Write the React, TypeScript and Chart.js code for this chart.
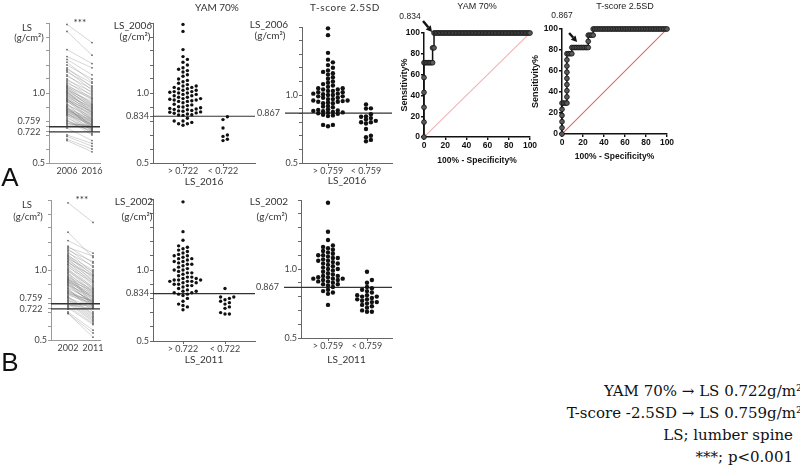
import React, { useEffect, useRef } from "react";
import { Chart, registerables } from "chart.js";

Chart.register(...registerables);

// ================= DATA =================
// Panel A: lumbar spine BMD (g/cm2), same subjects in 2006 and 2016
const A_LS2006 = [
  0.83, 0.81, 0.75, 0.70, 0.69, 0.67, 0.66,
  0.93, 0.902, 0.90, 0.858, 0.843, 0.84, 0.82, 0.80, 0.80, 0.79,
  0.77, 0.78, 0.78, 0.845, 0.85, 0.855,
  0.862, 0.865, 0.87, 0.872, 0.875, 0.88, 0.883, 0.886, 0.89, 0.895,
  0.91, 0.915, 0.92,
  0.94, 0.94, 0.945, 0.95, 0.95, 0.955, 0.96, 0.96, 0.97, 0.97,
  0.98, 0.98, 0.99, 0.99, 1.00, 1.00, 1.005, 1.01, 1.01, 1.02,
  1.02, 1.03, 1.03, 1.04, 1.04, 1.05, 1.05, 1.06, 1.07, 1.08,
  1.09, 1.10, 1.12, 1.13, 1.15, 1.16, 1.17, 1.18, 1.20, 1.22,
  1.24, 1.26, 1.31, 1.44, 1.49,
];
const A_LS2016 = [
  0.71, 0.70, 0.66, 0.64, 0.62, 0.60, 0.58,
  0.75, 0.745, 0.74, 0.735, 0.75, 0.73, 0.74, 0.725, 0.745, 0.73,
  0.762, 0.765, 0.77, 0.77, 0.78, 0.765,
  0.79, 0.77, 0.80, 0.775, 0.81, 0.78, 0.79, 0.82, 0.77, 0.80,
  0.79, 0.83, 0.81,
  0.82, 0.85, 0.80, 0.84, 0.87, 0.83, 0.86, 0.81, 0.88, 0.84,
  0.86, 0.90, 0.85, 0.89, 0.87, 0.91, 0.88, 0.92, 0.86, 0.90,
  0.94, 0.89, 0.93, 0.91, 0.96, 0.92, 0.97, 0.95, 0.99, 0.96,
  1.01, 0.98, 1.03, 1.00, 1.05, 1.02, 1.07, 1.04, 1.10, 1.08,
  1.13, 1.18, 1.21, 1.27, 1.36,
];
// Panel B: same measure, 2002 and 2011
const B_LS2002 = [
  1.48, 1.27, 1.21, 1.17, 1.16, 1.15, 1.14, 1.13, 1.12, 1.11,
  1.10, 1.10, 1.09, 1.08, 1.08, 1.07, 1.06, 1.06, 1.05, 1.04,
  1.04, 1.03, 1.02, 1.01, 1.00, 1.00, 0.99, 0.98, 0.98, 0.97,
  0.96, 0.95, 0.95, 0.94, 0.94, 0.93, 0.93, 0.93, 0.92, 0.92,
  0.92, 0.91, 0.91, 0.90, 0.90, 0.89, 0.89, 0.88, 0.87, 0.87,
  0.86, 0.85, 0.85, 0.84, 0.84, 0.83, 0.83, 0.82, 0.81, 0.81,
  0.80, 0.80, 0.79, 0.78, 0.78, 0.77, 0.76, 0.76, 0.75, 0.74,
  0.74, 0.73, 0.72, 0.70, 0.69, 0.69,
];
const B_LS2011 = [
  1.34, 1.09, 1.12, 1.05, 1.10, 1.02, 1.06, 0.98, 1.03, 0.96,
  1.00, 0.94, 0.97, 0.92, 0.99, 0.95, 0.90, 0.93, 0.96, 0.89,
  0.92, 0.87, 0.91, 0.86, 0.88, 0.84, 0.87, 0.83, 0.745, 0.85,
  0.82, 0.86, 0.80, 0.84, 0.79, 0.81, 0.85, 0.78, 0.83, 0.74,
  0.80, 0.77, 0.82, 0.75, 0.79, 0.765, 0.81, 0.77, 0.70, 0.78,
  0.745, 0.77, 0.74, 0.775, 0.75, 0.78, 0.74, 0.765, 0.69, 0.68,
  0.67, 0.735, 0.66, 0.65, 0.73, 0.64, 0.63, 0.74, 0.725, 0.62,
  0.765, 0.61, 0.73, 0.57, 0.55, 0.52,
];

const YEARS_A = ["2006", "2016"];
const YEARS_B = ["2002", "2011"];
const YAM_CUT = 0.722; // YAM 70%
const TSCORE_CUT = 0.759; // T-score -2.5SD
const YAM_ROC_CUT = 0.834;
const TSCORE_ROC_CUT = 0.867;
const YAM_GROUPS = ["> 0.722", "< 0.722"];
const TSCORE_GROUPS = ["> 0.759", "< 0.759"];
const BMD_MIN = 0.5;
const BMD_MAX = 1.5;
const BMD_TICKS = [0.5, 0.6, 0.7, 0.8, 0.9, 1.0, 1.1, 1.2, 1.3, 1.4, 1.5];
const BMD_LABELED = [0.5, 1.0];
const ROC_TICKS = [0, 20, 40, 60, 80, 100];

// ================= helpers =================
const LATO = "Lato, 'Open Sans', sans-serif";
const ARIAL = "'Liberation Sans', Arial, sans-serif";
const EN = "\u2002";

type Geo = {
  box: { left: number; top: number; width: number; height: number };
  area: { l: number; t: number; r: number; b: number };
  xH: number;
  pl?: number;
};

function layoutOf(g: Geo) {
  const pl = g.pl ?? 0;
  return {
    autoPadding: false,
    padding: {
      left: pl,
      top: g.area.t - g.box.top,
      right: g.box.left + g.box.width - g.area.r,
      bottom: g.box.top + g.box.height - g.area.b - g.xH,
    },
  };
}

// deterministic column swarm: points stacked in rows around the category centre
function swarm(values: number[], center: number, pxPerX: number, pxPerY: number, gx: number, gy: number) {
  const order = values.map((_, i) => i).sort((a, b) => values[a] - values[b]);
  const placed: { px: number; py: number }[] = [];
  const out: { x: number; y: number }[] = new Array(values.length);
  for (const i of order) {
    const py = values[i] * pxPerY;
    let off = 0;
    for (let k = 0; k < 300; k++) {
      const cand = k === 0 ? 0 : (k % 2 === 1 ? 1 : -1) * Math.ceil(k / 2) * gx;
      const hit = placed.some((p) => Math.abs(p.px - cand) < gx * 0.99 && Math.abs(p.py - py) < gy);
      if (!hit) {
        off = cand;
        break;
      }
    }
    placed.push({ px: off, py });
    out[i] = { x: center + off / pxPerX, y: values[i] };
  }
  return out;
}

function rocCurve(scores: number[], positive: boolean[]) {
  const nP = positive.filter(Boolean).length;
  const nN = positive.length - nP;
  const order = scores.map((_, i) => i).sort((a, b) => scores[a] - scores[b]);
  let tp = 0;
  let fp = 0;
  const pts = [{ x: 0, y: 0 }];
  for (const i of order) {
    if (positive[i]) tp++;
    else fp++;
    pts.push({ x: (100 * fp) / nN, y: (100 * tp) / nP });
  }
  return pts;
}

function rocAt(scores: number[], positive: boolean[], cut: number) {
  const nP = positive.filter(Boolean).length;
  const nN = positive.length - nP;
  let tp = 0;
  let fp = 0;
  scores.forEach((s, i) => {
    if (s <= cut) {
      if (positive[i]) tp++;
      else fp++;
    }
  });
  return { x: (100 * fp) / nN, y: (100 * tp) / nP };
}

function bmdAxis(g: Geo, extra: { value: number; label: string | string[] }[], axisColor: string) {
  const yW = g.area.l - g.box.left - (g.pl ?? 0);
  return {
    type: "linear",
    min: BMD_MIN,
    max: BMD_MAX,
    afterBuildTicks: (s: any) => {
      s.ticks = [...BMD_TICKS, ...extra.map((e) => e.value)].map((v) => ({ value: v }));
    },
    afterFit: (s: any) => {
      s.width = yW;
    },
    ticks: {
      autoSkip: false,
      padding: 1,
      color: "#444",
      font: { family: LATO, size: 9 },
      callback: (v: number) => {
        const e = extra.find((x) => Math.abs(x.value - v) < 1e-9);
        if (e) return e.label;
        if (BMD_LABELED.some((t) => Math.abs(t - v) < 1e-9)) return v.toFixed(1);
        return "";
      },
    },
    grid: { drawOnChartArea: false, tickLength: 3, color: axisColor, lineWidth: 1 },
    border: { color: axisColor, width: 1 },
  };
}

function catAxis(g: Geo, cats: [number, number], labels: string[], axisColor: string, title?: string, tickLen = 3) {
  const ppx = cats[1] - cats[0];
  return {
    type: "linear",
    min: 1 - (cats[0] - g.area.l) / ppx,
    max: 2 + (g.area.r - cats[1]) / ppx,
    afterBuildTicks: (s: any) => {
      s.ticks = [{ value: 1 }, { value: 2 }];
    },
    afterFit: (s: any) => {
      s.height = g.xH;
    },
    ticks: {
      autoSkip: false,
      maxRotation: 0,
      padding: tickLen > 0 ? 0 : 3,
      color: "#444",
      font: { family: LATO, size: 9 },
      callback: (v: number) => labels[Math.round(v) - 1] ?? "",
    },
    grid: { drawOnChartArea: false, tickLength: tickLen, color: axisColor, display: true, drawTicks: tickLen > 0 },
    border: { color: axisColor, width: 1 },
    title: title
      ? { display: true, text: title, color: "#333", font: { family: LATO, size: 10, lineHeight: 1.2 }, padding: 0 }
      : { display: false },
  };
}

const BASE = {
  responsive: false,
  animation: false,
  devicePixelRatio: 1,
  events: [],
};

// ---- paired (before/after) chart ----
function pairedConfig(g: Geo, before: number[], after: number[], years: string[], cats: [number, number]) {
  const xs = catAxis(g, cats, years, "#9a9a9a", undefined, 0);
  const subjects = before.map((b, i) => ({
    data: [
      { x: 1, y: b },
      { x: 2, y: after[i] },
    ],
    showLine: true,
    borderColor: "rgba(125,125,125,0.45)",
    borderWidth: 0.7,
    pointRadius: 0.9,
    pointBackgroundColor: "#666",
    pointBorderWidth: 0,
  }));
  const cutLine = (v: number) => ({
    data: [
      { x: xs.min, y: v },
      { x: xs.max, y: v },
    ],
    showLine: true,
    borderColor: "#333",
    borderWidth: 1.3,
    pointRadius: 0,
  });
  return {
    type: "scatter",
    data: { datasets: [cutLine(TSCORE_CUT), cutLine(YAM_CUT), ...subjects] },
    options: {
      ...BASE,
      layout: layoutOf(g),
      plugins: { legend: { display: false }, tooltip: { enabled: false } },
      scales: {
        x: xs,
        y: bmdAxis(
          g,
          [
            { value: TSCORE_CUT, label: [TSCORE_CUT.toFixed(3) + EN, ""] },
            { value: YAM_CUT, label: YAM_CUT.toFixed(3) + EN },
          ],
          "#9a9a9a"
        ),
      },
    },
  };
}

// ---- grouped dot plot ----
function dotConfig(
  g: Geo,
  values: number[],
  groupBy: number[],
  cut: number,
  labels: string[],
  refLine: number,
  xTitle: string,
  cats: [number, number],
  r: number,
  lead: number,
  gx: number,
  gy: number
) {
  const xs = catAxis(g, cats, labels, "#666", xTitle, 3);
  const ppx = cats[1] - cats[0];
  const ppy = (g.area.b - g.area.t) / (BMD_MAX - BMD_MIN);
  const hi = values.filter((_, i) => groupBy[i] >= cut);
  const lo = values.filter((_, i) => groupBy[i] < cut);
  const pts = [...swarm(hi, 1, ppx, ppy, gx, gy), ...swarm(lo, 2, ppx, ppy, gx, gy)];
  const pad = lead > 0 ? EN.repeat(Math.round(lead / 4.5)) : "";
  return {
    type: "scatter",
    data: {
      datasets: [
        {
          data: pts,
          pointRadius: r,
          pointBackgroundColor: "#111",
          pointBorderWidth: 0,
          clip: false,
        },
        {
          data: [
            { x: xs.min - lead / ppx, y: refLine },
            { x: xs.max, y: refLine },
          ],
          showLine: true,
          borderColor: "#333",
          borderWidth: 1.2,
          pointRadius: 0,
          clip: false,
        },
      ],
    },
    options: {
      ...BASE,
      layout: layoutOf(g),
      plugins: { legend: { display: false }, tooltip: { enabled: false } },
      scales: {
        x: xs,
        y: bmdAxis(g, [{ value: refLine, label: refLine.toFixed(3) + pad }], "#666"),
      },
    },
  };
}

// ---- ROC ----
function rocConfig(
  g: Geo,
  scores: number[],
  positive: boolean[],
  cut: number,
  diagColor: string,
  head: [number, number],
  tail: [number, number]
) {
  const pts = rocCurve(scores, positive);
  const cutPt = rocAt(scores, positive, cut);
  const yW = g.area.l - g.box.left - (g.pl ?? 0);
  const arrow = {
    id: "cutArrow",
    afterDatasetsDraw(chart: any) {
      const ctx = chart.ctx as CanvasRenderingContext2D;
      const px = chart.scales.x.getPixelForValue(cutPt.x);
      const py = chart.scales.y.getPixelForValue(cutPt.y);
      const hx = px + head[0];
      const hy = py + head[1];
      const tx = px + tail[0];
      const ty = py + tail[1];
      const ang = Math.atan2(hy - ty, hx - tx);
      const L = 6;
      const bx = hx - L * Math.cos(ang);
      const by = hy - L * Math.sin(ang);
      ctx.save();
      ctx.strokeStyle = "#111";
      ctx.fillStyle = "#111";
      ctx.lineWidth = 2.4;
      ctx.beginPath();
      ctx.moveTo(tx, ty);
      ctx.lineTo(bx, by);
      ctx.stroke();
      ctx.beginPath();
      ctx.moveTo(hx, hy);
      ctx.lineTo(bx + 3.2 * Math.sin(ang), by - 3.2 * Math.cos(ang));
      ctx.lineTo(bx - 3.2 * Math.sin(ang), by + 3.2 * Math.cos(ang));
      ctx.closePath();
      ctx.fill();
      ctx.restore();
    },
  };
  const axisCommon = {
    type: "linear",
    min: 0,
    max: 100,
    afterBuildTicks: (s: any) => {
      s.ticks = ROC_TICKS.map((v) => ({ value: v }));
    },
    ticks: {
      autoSkip: false,
      maxRotation: 0,
      padding: 1,
      color: "#111",
      font: { family: ARIAL, size: 8.5, weight: "bold" },
    },
    grid: { drawOnChartArea: false, tickLength: 3, color: "#111", lineWidth: 1.4 },
    border: { color: "#111", width: 1.5 },
  };
  return {
    type: "scatter",
    data: {
      datasets: [
        {
          data: pts,
          showLine: true,
          borderColor: "#111",
          borderWidth: 1.5,
          pointRadius: 2.4,
          pointBackgroundColor: "#5a5a5a",
          pointBorderColor: "#111",
          pointBorderWidth: 0.8,
          clip: false,
        },
        {
          data: [
            { x: 0, y: 0 },
            { x: 100, y: 100 },
          ],
          showLine: true,
          borderColor: diagColor,
          borderWidth: 1.1,
          pointRadius: 0,
        },
      ],
    },
    options: {
      ...BASE,
      layout: layoutOf(g),
      plugins: { legend: { display: false }, tooltip: { enabled: false } },
      scales: {
        x: {
          ...axisCommon,
          afterFit: (s: any) => {
            s.height = g.xH;
          },
          title: {
            display: true,
            text: "100% - Specificity%",
            color: "#111",
            font: { family: ARIAL, size: 8.5, weight: "bold", lineHeight: 1.2 },
            padding: 0,
          },
        },
        y: {
          ...axisCommon,
          afterFit: (s: any) => {
            s.width = yW;
          },
          title: {
            display: true,
            text: "Sensitivity%",
            color: "#111",
            font: { family: ARIAL, size: 9, weight: "bold", lineHeight: 1.2 },
            padding: 0,
          },
        },
      },
    },
    plugins: [arrow],
  };
}

// ================= geometry =================
const G_A1: Geo = { box: { left: 0, top: 0, width: 110, height: 200 }, area: { l: 49, t: 23, r: 100, b: 163 }, xH: 20 };
const G_A2: Geo = { box: { left: 110, top: 0, width: 150, height: 200 }, area: { l: 153, t: 23, r: 255, b: 163 }, xH: 25 };
const G_A3: Geo = { box: { left: 240, top: 0, width: 155, height: 200 }, area: { l: 302, t: 27, r: 392, b: 163 }, xH: 24 };
const G_B1: Geo = { box: { left: 0, top: 180, width: 110, height: 200 }, area: { l: 51, t: 200, r: 100, b: 340 }, xH: 20 };
const G_B2: Geo = { box: { left: 110, top: 180, width: 150, height: 200 }, area: { l: 153, t: 199, r: 255, b: 341 }, xH: 25 };
const G_B3: Geo = { box: { left: 240, top: 180, width: 155, height: 200 }, area: { l: 301, t: 200, r: 392, b: 338 }, xH: 28 };
const G_R1: Geo = { box: { left: 380, top: 0, width: 170, height: 175 }, area: { l: 424, t: 33, r: 530, b: 137 }, xH: 29, pl: 19.6 };
const G_R2: Geo = { box: { left: 528, top: 0, width: 162, height: 175 }, area: { l: 562, t: 29, r: 667, b: 134 }, xH: 28, pl: 2 };

function ChartBox({ geo, build }: { geo: Geo; build: () => any }) {
  const ref = useRef<HTMLCanvasElement | null>(null);
  useEffect(() => {
    const chart = new Chart(ref.current as HTMLCanvasElement, build());
    return () => chart.destroy();
  }, []);
  const { left, top, width, height } = geo.box;
  return (
    <canvas
      ref={ref}
      width={width}
      height={height}
      style={{ position: "absolute", left, top, width, height, display: "block" }}
    />
  );
}

type T = { t: string; x: number; y: number; size: number; fam?: string; color?: string; ls?: number };
const TEXTS: T[] = [
  { t: "A", x: 10, y: 177, size: 26, fam: ARIAL, color: "#111" },
  { t: "B", x: 10, y: 362, size: 26, fam: ARIAL, color: "#111" },
  { t: "***", x: 80, y: 22, size: 10 },
  { t: "***", x: 82, y: 199, size: 10 },
  { t: "LS", x: 27, y: 28, size: 9.5 },
  { t: "(g/cm²)", x: 29, y: 38, size: 9.5 },
  { t: "LS", x: 27, y: 205, size: 9.5 },
  { t: "(g/cm²)", x: 28, y: 217, size: 9.5 },
  { t: "YAM 70%", x: 217, y: 7, size: 10 },
  { t: "T-score 2.5SD", x: 345, y: 7, size: 10, ls: 0.6 },
  { t: "LS_2006", x: 133, y: 25, size: 10 },
  { t: "(g/cm²)", x: 135, y: 36, size: 10 },
  { t: "LS_2006", x: 269, y: 24, size: 10 },
  { t: "(g/cm²)", x: 270, y: 35, size: 10 },
  { t: "LS_2002", x: 134, y: 201, size: 10 },
  { t: "(g/cm²)", x: 137, y: 216, size: 10 },
  { t: "LS_2002", x: 269, y: 201, size: 10 },
  { t: "(g/cm²)", x: 272, y: 216, size: 10 },
  { t: "YAM 70%", x: 477, y: 6, size: 9, fam: ARIAL, color: "#222" },
  { t: "T-score 2.5SD", x: 625, y: 6, size: 9, fam: ARIAL, color: "#222" },
  { t: "0.834", x: 410, y: 16, size: 8.5, fam: ARIAL, color: "#222" },
  { t: "0.867", x: 562, y: 15, size: 8.5, fam: ARIAL, color: "#222" },
];

const NOTES = ["YAM 70% → LS 0.722g/m²", "T-score -2.5SD → LS 0.759g/m²", "LS; lumber spine", "***; p<0.001"];

export default function App() {
  const posA = A_LS2016.map((v) => v < YAM_CUT);
  const posT = A_LS2016.map((v) => v < TSCORE_CUT);
  return (
    <div
      style={{
        position: "fixed",
        left: 0,
        top: 0,
        width: 800,
        height: 473,
        overflow: "hidden",
        background: "#fff",
      }}
    >
      <ChartBox geo={G_A1} build={() => pairedConfig(G_A1, A_LS2006, A_LS2016, YEARS_A, [67, 92])} />
      <ChartBox
        geo={G_A2}
        build={() =>
          dotConfig(G_A2, A_LS2006, A_LS2016, YAM_CUT, YAM_GROUPS, YAM_ROC_CUT, "LS_2016", [183, 223], 1.7, 0, 4.4, 3.6)
        }
      />
      <ChartBox
        geo={G_A3}
        build={() =>
          dotConfig(G_A3, A_LS2006, A_LS2016, TSCORE_CUT, TSCORE_GROUPS, TSCORE_ROC_CUT, "LS_2016", [328, 366], 2.2, 17, 4.9, 3.0)
        }
      />
      <ChartBox geo={G_B1} build={() => pairedConfig(G_B1, B_LS2002, B_LS2011, YEARS_B, [68, 93])} />
      <ChartBox
        geo={G_B2}
        build={() =>
          dotConfig(G_B2, B_LS2002, B_LS2011, YAM_CUT, YAM_GROUPS, YAM_ROC_CUT, "LS_2011", [183, 225], 1.7, 0, 4.4, 3.6)
        }
      />
      <ChartBox
        geo={G_B3}
        build={() =>
          dotConfig(G_B3, B_LS2002, B_LS2011, TSCORE_CUT, TSCORE_GROUPS, TSCORE_ROC_CUT, "LS_2011", [328, 367], 2.2, 17, 4.9, 3.0)
        }
      />
      <ChartBox
        geo={G_R1}
        build={() => rocConfig(G_R1, A_LS2006, posA, YAM_ROC_CUT, "#f2b4b4", [-2, -1], [-11, -12])}
      />
      <ChartBox
        geo={G_R2}
        build={() => rocConfig(G_R2, A_LS2006, posT, TSCORE_ROC_CUT, "#e5675f", [2, -5.5], [-6, -14.5])}
      />
      {TEXTS.map((s, i) => (
        <span
          key={i}
          style={{
            position: "absolute",
            left: s.x,
            top: s.y,
            transform: "translate(-50%, -50%)",
            whiteSpace: "nowrap",
            lineHeight: 1,
            fontSize: s.size,
            fontFamily: s.fam ?? LATO,
            color: s.color ?? "#333",
            letterSpacing: s.ls ?? 0,
          }}
        >
          {s.t}
        </span>
      ))}
      <div
        style={{
          position: "absolute",
          right: 7,
          top: 380,
          textAlign: "right",
          fontFamily: "'DejaVu Serif', 'Liberation Serif', serif",
          fontSize: 15,
          lineHeight: "22px",
          color: "#111",
          whiteSpace: "nowrap",
        }}
      >
        {NOTES.map((n, i) => (
          <div key={i} style={{ marginRight: i < 2 ? -9 : 0 }}>
            {n}
          </div>
        ))}
      </div>
    </div>
  );
}
